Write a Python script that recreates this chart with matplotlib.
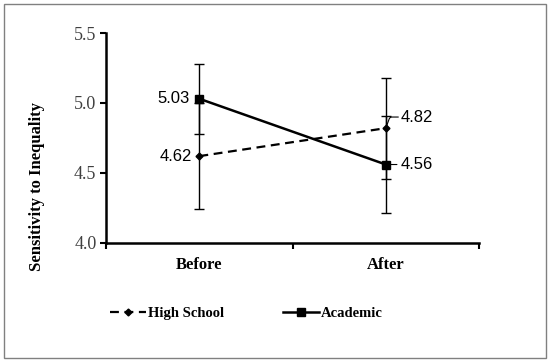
import matplotlib.pyplot as plt
import matplotlib.patches as patches
from matplotlib.lines import Line2D
import numpy as np

categories = ["Before", "After"]
high_school = [4.62, 4.82]
high_school_err = [0.38, 0.36]
academic = [5.03, 4.56]
academic_err = [0.25, 0.35]

serif = "Liberation Serif"
sans = "Liberation Sans"

fig = plt.figure(figsize=(5.5, 3.63), dpi=100)
ax = fig.add_axes([0.193, 0.331, 0.678, 0.578])

x = np.arange(1, len(categories) + 1)

hs_style = dict(color="black", ls=(0, (4, 2.5)), lw=1.6, marker="D", ms=3.5)
ac_style = dict(color="black", ls="-", lw=1.8, marker="s", ms=6)

ax.errorbar(x, high_school, yerr=high_school_err, capsize=3.5, elinewidth=1,
            capthick=1, ecolor="black", zorder=3, **hs_style)
ax.errorbar(x, academic, yerr=academic_err, capsize=3.5, elinewidth=1,
            capthick=1, ecolor="black", zorder=4, **ac_style)

# value labels
lab = dict(fontsize=12, family=sans, color="black")
ax.annotate(f"{academic[0]:.2f}", (x[0], academic[0]), xytext=(-7, 0),
            textcoords="offset points", ha="right", va="center", **lab)
ax.annotate(f"{high_school[0]:.2f}", (x[0], high_school[0]), xytext=(-5, 0),
            textcoords="offset points", ha="right", va="center", **lab)
ax.annotate(f"{high_school[1]:.2f}", (x[1], high_school[1]), xytext=(11, 8),
            textcoords="offset points", ha="left", va="center",
            arrowprops=dict(arrowstyle="-", color="black", lw=0.8,
                            shrinkA=0, shrinkB=2,
                            connectionstyle="angle,angleA=0,angleB=70,rad=2"),
            **lab)
ax.annotate(f"{academic[1]:.2f}", (x[1], academic[1]), xytext=(11, 0),
            textcoords="offset points", ha="left", va="center",
            arrowprops=dict(arrowstyle="-", color="black", lw=0.8,
                            shrinkA=1, shrinkB=2), **lab)

ax.set_xlim(0.5, 2.5)
ax.set_ylim(4.0, 5.5)
ax.set_yticks([4.0, 4.5, 5.0, 5.5])
ax.set_yticklabels(["4.0", "4.5", "5.0", "5.5"], family=serif, fontsize=13, color="#404040")
ax.set_xticks([0.5, 1.5, 2.5])
ax.set_xticklabels([])
ax.set_xticks(x, minor=True)
ax.set_xticklabels(categories, minor=True, family=serif, fontsize=12, fontweight="bold")
ax.tick_params(axis="x", which="minor", length=0, pad=10)
ax.tick_params(axis="x", which="major", length=4, width=1.5, direction="out")
ax.tick_params(axis="y", length=4, width=1.5, direction="out", pad=3)

for s in ["top", "right"]:
    ax.spines[s].set_visible(False)
for s in ["left", "bottom"]:
    ax.spines[s].set_linewidth(1.8)

ax.set_ylabel("Sensitivity to Inequality", family=serif, fontsize=12,
              fontweight="bold")
ax.yaxis.set_label_coords(-0.164, 0.267)

handles = [Line2D([], [], **hs_style), Line2D([], [], **ac_style)]
fig.legend(handles, ["High School", "Academic"], loc="center",
           bbox_to_anchor=(0.448, 0.137), ncol=2, frameon=False,
           prop=dict(family=serif, size=10.5, weight="bold"), handlelength=2.5,
           columnspacing=4.0, handletextpad=0.15)

fig.patches.append(patches.Rectangle((0.007, 0.013), 0.986, 0.975, transform=fig.transFigure,
                                     fill=False, edgecolor="#808080", lw=1))

fig.savefig("out.png", dpi=100)
